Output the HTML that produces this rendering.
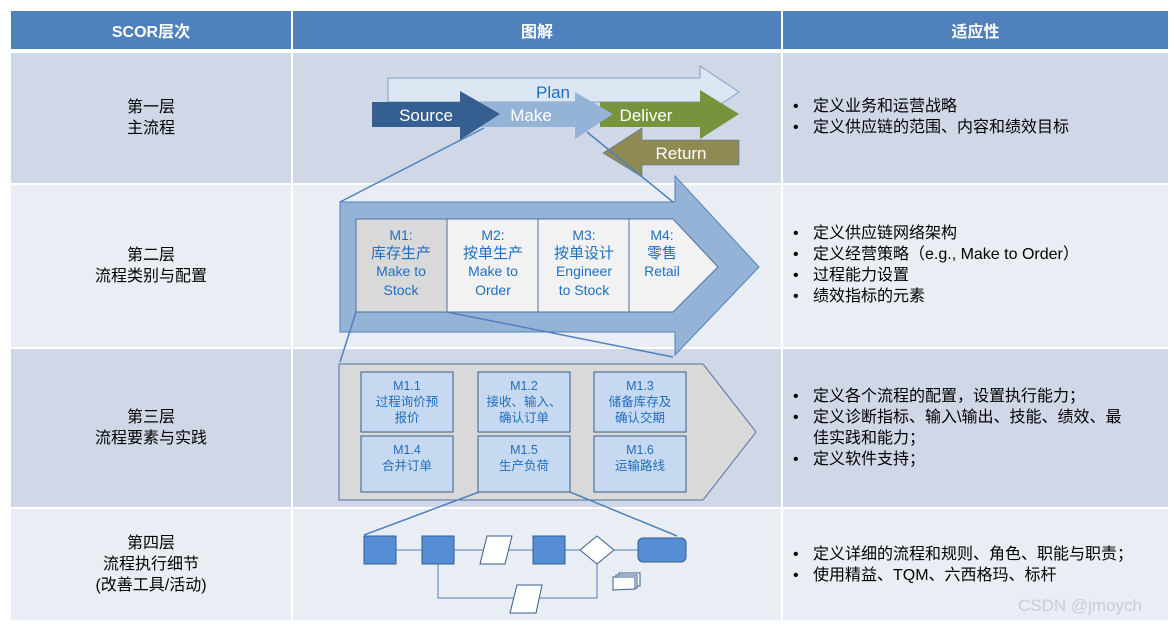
<!DOCTYPE html>
<html><head><meta charset="utf-8"><style>
body{margin:0;width:1174px;height:627px;background:#fff;position:relative;overflow:hidden;font-family:"Liberation Sans","Noto Sans CJK SC",sans-serif}
.c{position:absolute;box-sizing:border-box}
.h{background:#4f81bd;color:#fff;font-weight:bold;font-size:16px;display:flex;align-items:center;justify-content:center}
.a{background:#d0d8e8}.b{background:#e9edf4}
.l{display:flex;align-items:center;justify-content:center;text-align:center;font-size:16px;line-height:21px;color:#000}
.r{font-size:16px;line-height:21px;color:#000;padding-left:10px}
.r div{position:relative;padding-left:20px}
.r div:before{content:"•";position:absolute;left:0}
</style></head><body>
<div class="c h" style="left:11px;top:11px;width:280px;height:38px">SCOR层次</div>
<div class="c h" style="left:293px;top:11px;width:488px;height:38px">图解</div>
<div class="c h" style="left:783px;top:11px;width:385px;height:38px">适应性</div>

<div class="c a l" style="left:11px;top:53px;width:280px;height:130px">第一层<br>主流程</div>
<div class="c a" style="left:293px;top:53px;width:488px;height:130px"></div>
<div class="c a r" style="left:783px;top:53px;width:385px;height:130px;padding-top:43px"><div>定义业务和运营战略</div><div>定义供应链的范围、内容和绩效目标</div></div>

<div class="c b l" style="left:11px;top:185px;width:280px;height:162px">第二层<br>流程类别与配置</div>
<div class="c b" style="left:293px;top:185px;width:488px;height:162px"></div>
<div class="c b r" style="left:783px;top:185px;width:385px;height:162px;padding-top:38px"><div>定义供应链网络架构</div><div>定义经营策略（e.g., Make to Order）</div><div>过程能力设置</div><div>绩效指标的元素</div></div>

<div class="c a l" style="left:11px;top:349px;width:280px;height:158px">第三层<br>流程要素与实践</div>
<div class="c a" style="left:293px;top:349px;width:488px;height:158px"></div>
<div class="c a r" style="left:783px;top:349px;width:385px;height:158px;padding-top:37px;padding-right:40px"><div>定义各个流程的配置，设置执行能力；</div><div>定义诊断指标、输入\输出、技能、绩效、最佳实践和能力；</div><div>定义软件支持；</div></div>

<div class="c b l" style="left:11px;top:509px;width:280px;height:111px">第四层<br>流程执行细节<br>(改善工具/活动)</div>
<div class="c b" style="left:293px;top:509px;width:488px;height:111px"></div>
<div class="c b r" style="left:783px;top:509px;width:385px;height:111px;padding-top:35px"><div>定义详细的流程和规则、角色、职能与职责；</div><div>使用精益、TQM、六西格玛、标杆</div></div>
<div class="c" style="left:1018px;top:596px;font-size:17px;color:#c8ccd4">CSDN @jmoych</div>

<svg class="c" style="left:0;top:0" width="1174" height="627" font-family="Liberation Sans, Noto Sans CJK SC, sans-serif">
<polygon points="388,78 700,78 700,66 739,92 700,118 700,102 388,102" fill="#dce6f2" stroke="#7f9fc8"/>
<text x="553" y="98" font-size="17" fill="#1f6fc0" text-anchor="middle">Plan</text>
<polygon points="600,102 700,102 700,90 739,114 700,139 700,127 600,127" fill="#77933c"/>
<polygon points="460,102 575,102 575,92 613,114 575,139 575,127 460,127" fill="#95b3d7"/>
<polygon points="372,102 460,102 460,91 500,114 460,140 460,127 372,127" fill="#355f91"/>
<polygon points="739,140 642,140 642,128 603,153 642,177 642,165 739,165" fill="#8f8a52" stroke="#4f6f9f" stroke-width="0.6"/>
<text x="426" y="121" font-size="17" fill="#fff" text-anchor="middle">Source</text>
<text x="531" y="121" font-size="17" fill="#fff" text-anchor="middle">Make</text>
<text x="646" y="121" font-size="17" fill="#fff" text-anchor="middle">Deliver</text>
<text x="681" y="159" font-size="17" fill="#fff" text-anchor="middle">Return</text>
<line x1="484" y1="128" x2="340" y2="202" stroke="#4f81bd" stroke-width="1.5"/>
<line x1="587" y1="132" x2="673" y2="202" stroke="#4f81bd" stroke-width="1.5"/>
<polygon points="340,202 675,202 675,176 759,267 675,355 675,332 340,332" fill="#95b3d7" stroke="#4f81bd"/>
<polygon points="356,219 673,219 718,267 673,312 356,312" fill="#f2f2f2" stroke="#4f6f9f"/>
<rect x="356" y="219" width="91" height="93" fill="#d9d9d9" stroke="#4f6f9f"/>
<line x1="538" y1="219" x2="538" y2="312" stroke="#4f6f9f"/>
<line x1="629" y1="219" x2="629" y2="312" stroke="#4f6f9f"/>
<g font-size="14" fill="#1f6fc0" text-anchor="middle">
<text x="401" y="240">M1:</text><text x="401" y="258" font-size="15">库存生产</text><text x="401" y="276">Make to</text><text x="401" y="295">Stock</text>
<text x="493" y="240">M2:</text><text x="493" y="258" font-size="15">按单生产</text><text x="493" y="276">Make to</text><text x="493" y="295">Order</text>
<text x="584" y="240">M3:</text><text x="584" y="258" font-size="15">按单设计</text><text x="584" y="276">Engineer</text><text x="584" y="295">to Stock</text>
<text x="662" y="240">M4:</text><text x="662" y="258" font-size="15">零售</text><text x="662" y="276">Retail</text>
</g>
<line x1="356" y1="312" x2="340" y2="362" stroke="#4f81bd" stroke-width="1.5"/>
<line x1="447" y1="312" x2="673" y2="357" stroke="#4f81bd" stroke-width="1.5"/>
<polygon points="339,364 703,364 756,432 703,500 339,500" fill="#d9d9d9" stroke="#4f6f9f"/>
<g fill="#c6d9f1" stroke="#385d8a">
<rect x="361" y="372" width="92" height="60"/><rect x="478" y="372" width="92" height="60"/><rect x="594" y="372" width="92" height="60"/>
<rect x="361" y="436" width="92" height="56"/><rect x="478" y="436" width="92" height="56"/><rect x="594" y="436" width="92" height="56"/>
</g>
<g font-size="12.5" fill="#1f6fc0" text-anchor="middle">
<text x="407" y="390">M1.1</text><text x="407" y="406">过程询价预</text><text x="407" y="422">报价</text>
<text x="524" y="390">M1.2</text><text x="524" y="406">接收、输入、</text><text x="524" y="422">确认订单</text>
<text x="640" y="390">M1.3</text><text x="640" y="406">储备库存及</text><text x="640" y="422">确认交期</text>
<text x="407" y="454">M1.4</text><text x="407" y="470">合并订单</text>
<text x="524" y="454">M1.5</text><text x="524" y="470">生产负荷</text>
<text x="640" y="454">M1.6</text><text x="640" y="470">运输路线</text>
</g>
<line x1="479" y1="492" x2="364" y2="535" stroke="#4f81bd" stroke-width="1.5"/>
<line x1="570" y1="492" x2="677" y2="536" stroke="#4f81bd" stroke-width="1.5"/>
<g stroke="#4f81bd" fill="none" stroke-width="1">
<line x1="380" y1="550" x2="660" y2="550"/>
<polyline points="438,564 438,598 597,598 597,564"/>
</g>
<g fill="#558ed5" stroke="#385d8a">
<rect x="364" y="536" width="32" height="28"/><rect x="422" y="536" width="32" height="28"/><rect x="533" y="536" width="32" height="28"/>
<rect x="638" y="538" width="48" height="24" rx="5"/>
</g>
<g fill="#fff" stroke="#385d8a">
<polygon points="487,536 512,536 505,564 480,564"/>
<polygon points="597,536 614,550 597,564 580,550"/>
<polygon points="517,585 542,585 536,613 510,613"/>
<rect x="619" y="573" width="21" height="13"/>
<rect x="616" y="575" width="21" height="13"/>
<polygon points="613,577 635,577 635,589 613,590"/>
</g>
</svg>
</body></html>
